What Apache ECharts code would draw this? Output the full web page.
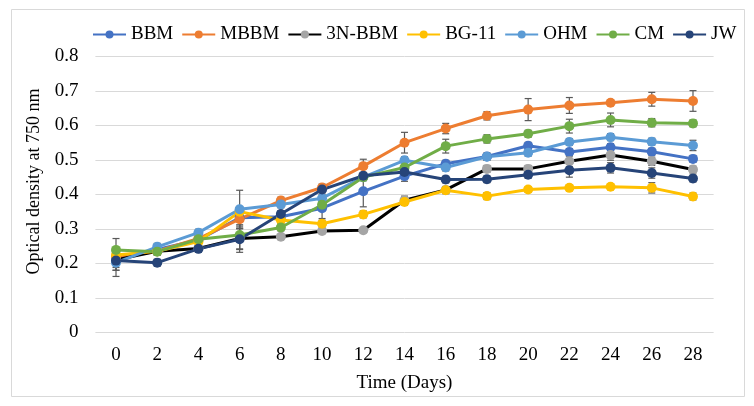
<!DOCTYPE html>
<html><head><meta charset="utf-8">
<script src="https://cdn.jsdelivr.net/npm/echarts@6/dist/echarts.min.js"></script>
<style>html,body{margin:0;padding:0;background:#fff}#c{width:754px;height:406px}</style>
</head><body><div id="c"></div>
<script>
var days = ['0','2','4','6','8','10','12','14','16','18','20','22','24','26','28'];
var yTicks = [0,0.1,0.2,0.3,0.4,0.5,0.6,0.7,0.8];
var BBM  = [0.210,0.240,0.268,0.332,0.335,0.360,0.409,0.453,0.489,0.510,0.541,0.523,0.537,0.524,0.503];
var MBBM = [0.217,0.235,0.272,0.328,0.382,0.420,0.482,0.550,0.591,0.628,0.646,0.658,0.666,0.676,0.671];
var N3BBM= [0.210,0.235,0.243,0.272,0.277,0.294,0.296,0.383,0.413,0.474,0.474,0.496,0.514,0.496,0.472];
var BG11 = [0.224,0.235,0.263,0.350,0.326,0.315,0.342,0.378,0.412,0.395,0.414,0.419,0.422,0.419,0.394];
var OHM  = [0.202,0.248,0.289,0.357,0.371,0.389,0.450,0.499,0.478,0.509,0.521,0.552,0.566,0.553,0.542];
var CM   = [0.239,0.234,0.270,0.282,0.304,0.370,0.450,0.478,0.540,0.561,0.576,0.598,0.616,0.608,0.606];
var JW   = [0.208,0.202,0.242,0.270,0.343,0.414,0.454,0.465,0.443,0.444,0.457,0.470,0.477,0.462,0.446];
var BBM_err  = [0.030,0.010,0.010,0.030,0.010,0.030,0.045,0.015,0.010,0.010,0.010,0.010,0.010,0.010,0.010];
var MBBM_err = [0.020,0.010,0.010,0.020,0.010,0.010,0.020,0.030,0.015,0.012,0.032,0.023,0.008,0.020,0.030];
var N3BBM_err= [0.030,0.010,0.010,0.040,0.005,0.005,0.005,0.012,0.010,0.010,0.010,0.015,0.015,0.012,0.010];
var BG11_err = [0.010,0.010,0.010,0.015,0.010,0.010,0.010,0.010,0.010,0.010,0.008,0.008,0.008,0.015,0.010];
var OHM_err  = [0.040,0.010,0.010,0.055,0.010,0.010,0.010,0.010,0.010,0.010,0.010,0.010,0.010,0.010,0.015];
var CM_err   = [0.033,0.010,0.010,0.040,0.010,0.010,0.010,0.020,0.020,0.012,0.010,0.020,0.020,0.012,0.010];
var JW_err   = [0.020,0.010,0.010,0.030,0.010,0.010,0.010,0.010,0.010,0.010,0.010,0.020,0.015,0.015,0.010];

var defs = [
  {name:'BBM', data:BBM, err:BBM_err, line:'#4472C4', mark:'#4472C4'},
  {name:'MBBM', data:MBBM, err:MBBM_err, line:'#ED7D31', mark:'#ED7D31'},
  {name:'3N-BBM', data:N3BBM, err:N3BBM_err, line:'#000000', mark:'#A5A5A5'},
  {name:'BG-11', data:BG11, err:BG11_err, line:'#FFC000', mark:'#FFC000'},
  {name:'OHM', data:OHM, err:OHM_err, line:'#5B9BD5', mark:'#5B9BD5'},
  {name:'CM', data:CM, err:CM_err, line:'#70AD47', mark:'#70AD47'},
  {name:'JW', data:JW, err:JW_err, line:'#264478', mark:'#264478'}
];
var FONT = 'Liberation Serif';
var series = [];
defs.forEach(function(d){
  series.push({
    name:d.name, type:'line', data:d.data, symbol:'circle', symbolSize:10,
    lineStyle:{color:d.line, width:3}, itemStyle:{color:d.mark, borderWidth:0},
    emphasis:{disabled:true}, animation:false
  });
  series.push({
    name:d.name+' err', type:'custom', animation:false, silent:true,
    data:d.data.map(function(v,i){return [i,v,d.err[i]];}),
    encode:{x:0,y:1},
    renderItem:function(params, api){
      var i = api.value(0), v = api.value(1), e = api.value(2);
      var top = api.coord([i, v+e]), bot = api.coord([i, v-e]);
      var x = top[0], w = 3.5;
      var st = {stroke:'#595959', lineWidth:1.2};
      return {type:'group', children:[
        {type:'line', shape:{x1:x,y1:top[1],x2:x,y2:bot[1]}, style:st},
        {type:'line', shape:{x1:x-w,y1:top[1],x2:x+w,y2:top[1]}, style:st},
        {type:'line', shape:{x1:x-w,y1:bot[1],x2:x+w,y2:bot[1]}, style:st}
      ]};
    }
  });
});

var chart = echarts.init(document.getElementById('c'), null, {renderer:'canvas'});
chart.setOption({
  backgroundColor:'#ffffff',
  animation:false,
  textStyle:{fontFamily:FONT},
  graphic:[{type:'rect', shape:{x:11.5,y:9.5,width:733,height:387}, style:{fill:'none', stroke:'#d9d9d9', lineWidth:1}, silent:true}],
  legend:{
    data:defs.map(function(d){return d.name;}),
    left:92, top:25, padding:0, itemWidth:33, itemHeight:10, itemGap:8,
    textStyle:{fontFamily:FONT, fontSize:19, color:'#000'}
  },
  grid:{left:95.4, right:40.4, top:56.5, bottom:73.7, containLabel:false},
  xAxis:{
    type:'category', data:days, boundaryGap:true,
    name:'Time (Days)', nameLocation:'middle', nameGap:41,
    nameTextStyle:{fontFamily:FONT, fontSize:19, color:'#000'},
    axisLine:{show:false}, axisTick:{show:false},
    axisLabel:{fontFamily:FONT, fontSize:19, color:'#000', margin:13}
  },
  yAxis:{
    type:'value', min:yTicks[0], max:yTicks[yTicks.length-1], interval:0.1,
    name:'Optical density at 750 nm', nameLocation:'middle', nameGap:45,
    nameTextStyle:{fontFamily:FONT, fontSize:18, color:'#000', padding:[0,0,0,26]},
    axisLine:{show:false}, axisTick:{show:false},
    splitLine:{lineStyle:{color:'#d9d9d9', width:1}},
    axisLabel:{fontFamily:FONT, fontSize:19, color:'#000', margin:17,
      formatter:function(v){return String(+v.toFixed(1));}}
  },
  series:series
});
</script></body></html>
